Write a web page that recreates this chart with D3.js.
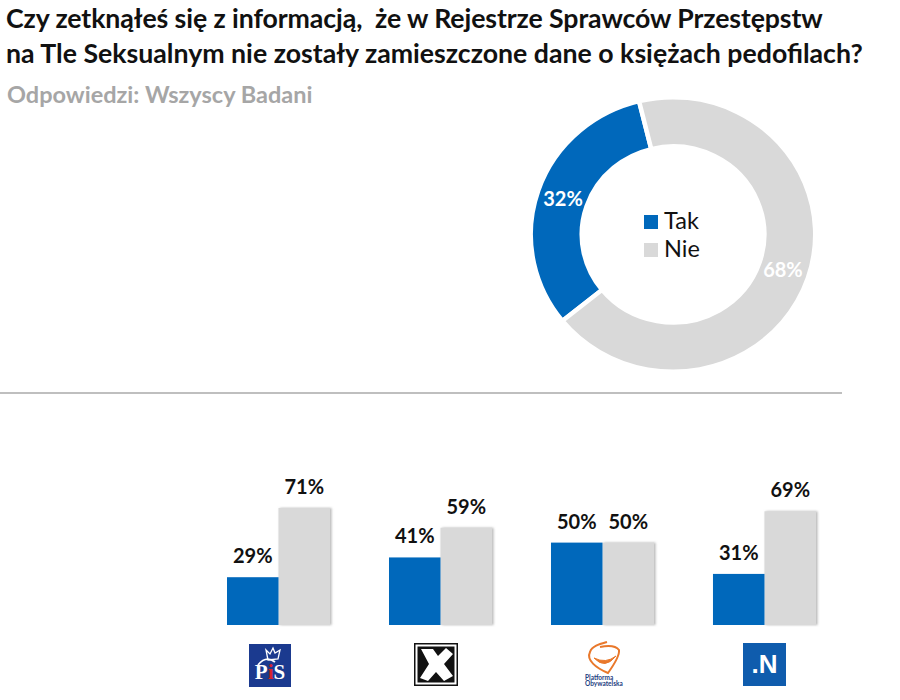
<!DOCTYPE html>
<html lang="pl">
<head>
<meta charset="utf-8">
<title>Rejestr Sprawców</title>
<script src="https://cdn.jsdelivr.net/npm/d3@7"></script>
<style>
  body { margin: 0; background: #fff; }
  svg { display: block; }
  text { font-family: Lato, "Open Sans", sans-serif; }
</style>
</head>
<body>
<div id="chart"></div>
<script>
// Data
const titleLines = [
  "Czy zetknąłeś się z informacją,  że w Rejestrze Sprawców Przestępstw",
  "na Tle Seksualnym nie zostały zamieszczone dane o księżach pedofilach?"
];
const subtitle = "Odpowiedzi: Wszyscy Badani";
const answers = ["Tak", "Nie"];
const overall = [32, 68];
const parties = ["PiS", "Kukiz", "PO", "N"];
const takByParty = [29, 41, 50, 31];
const nieByParty = [71, 59, 50, 69];

const BLUE = "#0068bb", GREY = "#d9d9d9";
const color = d3.scaleOrdinal().domain(answers).range([BLUE, GREY]);

const svg = d3.select("#chart").append("svg").attr("width", 900).attr("height", 700);
const defs = svg.append("defs");
defs.append("filter").attr("id", "barShadow").attr("x", "-10%").attr("width", "120%")
  .append("feDropShadow").attr("dx", 1.5).attr("dy", 0).attr("stdDeviation", 0.8)
  .attr("flood-color", "#999").attr("flood-opacity", 0.7);

// Title block
svg.selectAll(".title").data(titleLines).enter().append("text").attr("class", "title")
  .attr("x", 6).attr("y", (d, i) => i === 0 ? 28 : 63)
  .attr("font-size", 26.7).attr("font-weight", 700).attr("fill", "#111")
  .attr("letter-spacing", (d, i) => i === 0 ? -0.1 : 0)
  .style("white-space", "pre")
  .text(d => d);
svg.append("text").attr("x", 7).attr("y", 103).attr("font-size", 23.5).attr("font-weight", 700)
  .attr("fill", "#a6a6a6").text(subtitle);

// Donut (the source image is slightly squashed vertically)
const SQUASH = 0.965;
const donut = svg.append("g").attr("transform", "translate(673,234.5)");
const pie = d3.pie().sort(null)
  .startAngle(-129 * Math.PI / 180).endAngle(231 * Math.PI / 180);
const arc = d3.arc().innerRadius(91.25).outerRadius(142.25);
const labelArc = d3.arc().innerRadius(116).outerRadius(116);
const slices = pie(overall);

donut.append("g").attr("transform", `scale(1,${SQUASH})`)
  .selectAll("path").data(slices).enter().append("path")
  .attr("d", arc).attr("fill", (d, i) => color(answers[i]))
  .attr("stroke", "#fff").attr("stroke-width", 4.5);
donut.selectAll("text").data(slices).enter().append("text")
  .attr("transform", d => {
    const [cx, cy] = labelArc.centroid(d);
    return `translate(${cx},${cy * SQUASH})`;
  })
  .attr("text-anchor", "middle").attr("dy", "0.35em")
  .attr("font-size", 20).attr("font-weight", 700).attr("fill", "#fff")
  .text(d => `${d.data}%`);

// Legend inside the donut
const legend = svg.selectAll(".legend").data(answers).enter().append("g").attr("class", "legend")
  .attr("transform", (d, i) => `translate(644,${215 + i * 28})`);
legend.append("rect").attr("width", 14).attr("height", 14).attr("fill", d => color(d));
legend.append("text").attr("x", 20).attr("y", 13.5).attr("font-size", 23.5).attr("fill", "#111").text(d => d);

// Separator
svg.append("line").attr("x1", 0).attr("x2", 842).attr("y1", 393).attr("y2", 393)
  .attr("stroke", "#bfbfbf").attr("stroke-width", 2);

// Party bars
const x = d3.scaleBand().domain(parties).range([227, 816]).paddingInner(0.364).paddingOuter(0);
const xInner = d3.scaleBand().domain(answers).range([0, x.bandwidth()]);
const y = d3.scaleLinear().domain([0, 100]).range([625, 460.2]);

const rows = parties.map((p, i) => ({ party: p, values: [
  { answer: answers[0], value: takByParty[i] },
  { answer: answers[1], value: nieByParty[i] }
] }));

const groups = svg.selectAll(".party").data(rows).enter().append("g").attr("class", "party")
  .attr("transform", d => `translate(${x(d.party)},0)`);

// grey first so the blue bar sits over its shadow edge
groups.selectAll("rect").data(d => d.values.slice().reverse()).enter().append("rect")
  .attr("x", d => xInner(d.answer)).attr("width", xInner.bandwidth())
  .attr("y", d => y(d.value)).attr("height", d => y(0) - y(d.value))
  .attr("fill", d => color(d.answer))
  .attr("filter", d => d.answer === "Nie" ? "url(#barShadow)" : null);

groups.selectAll("text").data(d => d.values).enter().append("text")
  .attr("x", d => xInner(d.answer) + xInner.bandwidth() / 2)
  .attr("y", d => y(d.value) - 14)
  .attr("text-anchor", "middle").attr("font-size", 20).attr("font-weight", 700).attr("fill", "#111")
  .text(d => `${d.value}%`);

// Party logos
function drawPis(g) {
  g.append("rect").attr("x", 249).attr("y", 644).attr("width", 42).attr("height", 43).attr("fill", "#1b3a8f");
  g.append("path").attr("d", "M268 660 L266 650 L270 654 L273 648 L275 653 L280 650 L278 659 Z")
    .attr("fill", "none").attr("stroke", "#fff").attr("stroke-width", 1.3);
  g.append("path").attr("d", "M258 665 Q266 655 275 662").attr("fill", "none").attr("stroke", "#fff").attr("stroke-width", 1.8);
  const t = g.append("text").attr("x", 270).attr("y", 679).attr("text-anchor", "middle")
    .attr("font-size", 21).attr("font-weight", 700).attr("fill", "#fff")
    .style("font-family", "'Liberation Serif', serif");
  t.append("tspan").text("P");
  t.append("tspan").attr("fill", "#d8232a").text("i");
  t.append("tspan").text("S");
}

function drawKukiz(g) {
  g.append("rect").attr("x", 414).attr("y", 643).attr("width", 44).attr("height", 43).attr("fill", "#111");
  g.append("rect").attr("x", 415.5).attr("y", 644.5).attr("width", 41).attr("height", 40).attr("fill", "#fff");
  g.append("rect").attr("x", 417.5).attr("y", 646.5).attr("width", 37).attr("height", 36).attr("fill", "#111");
  g.append("path").attr("d", "M421 649 L433 649 L438 656 L446 648 L453 654 L444 664 L453 676 L444 681 L436 672 L428 681 L420 678 L429 664 Z")
    .attr("fill", "#fff");
}

function drawPo(g) {
  const orange = "#e9782b";
  g.append("path").attr("d", "M607 642 C600 644 592 646 590 652 C586 660 596 668 608 673 C613 666 620 656 619 650 C616 646 610 645 600 647")
    .attr("fill", "none").attr("stroke", orange).attr("stroke-width", 2);
  g.append("path").attr("d", "M594 658 Q605 670 616 656 Q606 664 594 658 Z")
    .attr("fill", orange).attr("stroke", orange).attr("stroke-width", 1);
  g.selectAll(".po").data(["Platforma", "Obywatelska"]).enter().append("text").attr("class", "po")
    .attr("x", 585).attr("y", (d, i) => 680 + i * 6)
    .attr("font-size", 6.5).attr("font-weight", 700).attr("fill", "#24407f").text(d => d);
}

function drawN(g) {
  g.append("rect").attr("x", 743).attr("y", 643).attr("width", 43).attr("height", 43).attr("fill", "#0f5cad");
  g.append("text").attr("x", 764.5).attr("y", 673).attr("text-anchor", "middle")
    .attr("font-size", 26).attr("font-weight", 700).attr("fill", "#fff")
    .style("font-family", "'Liberation Sans', sans-serif").text(".N");
}

const logos = svg.append("g");
drawPis(logos);
drawKukiz(logos);
drawPo(logos);
drawN(logos);
</script>
</body>
</html>
